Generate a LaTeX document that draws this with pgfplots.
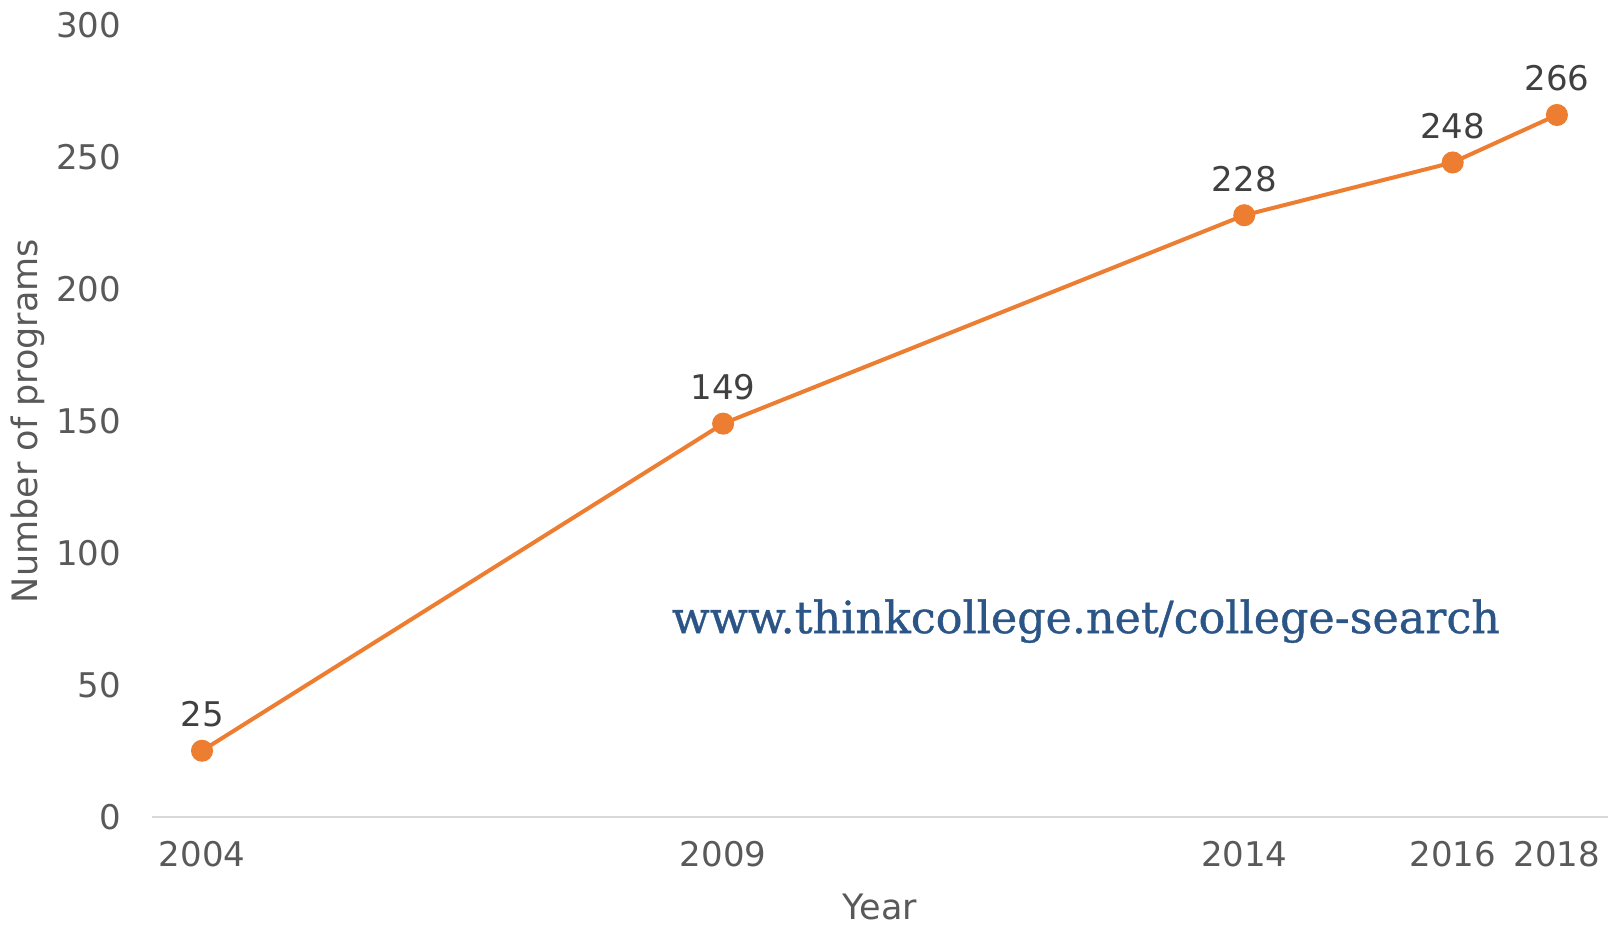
\documentclass[border=0pt]{standalone}
\usepackage{pgfplots}
\pgfplotsset{compat=1.18}
\usepackage{fontspec}
\usepackage{graphicx}
\setmainfont{DejaVu Sans}
\newfontfamily\urlfont[FakeBold=0.8]{DejaVu Serif}
\definecolor{lineorange}{HTML}{ED7D31}
\definecolor{ticktext}{HTML}{595959}
\definecolor{labeltext}{HTML}{404040}
\definecolor{urlblue}{HTML}{2A5586}
\definecolor{axisgray}{HTML}{D9D9D9}
\begin{document}
\begin{tikzpicture}
\begin{axis}[
  at={(0,0)}, anchor=south west,
  scale only axis, width=728pt, height=395.7pt,
  xmin=-0.48, xmax=13.49, ymin=0, ymax=300,
  clip=false,
  axis x line*=bottom, axis y line*=left,
  x axis line style={draw=axisgray, line width=1pt},
  y axis line style={draw=none},
  major tick length=0pt,
  tick style={draw=none},
  /pgf/number format/assume math mode=true,
  ytick={0,50,100,150,200,250,300},
  xtick={0,5,10,12,13},
  xticklabels={2004,2009,2014,2016,2018},
  tick label style={font=\fontsize{17}{20}\selectfont, text=ticktext},
  yticklabel style={anchor=east, xshift=-12pt},
  xticklabel style={anchor=north, yshift=-9pt},
  xlabel={Year}, ylabel={Number of programs},
  label style={font=\fontsize{17.5}{20}\selectfont, text=ticktext},
  xlabel style={at={(axis description cs:0.5,0)}, anchor=center, yshift=-45pt},
  ylabel style={at={(axis description cs:0,0.5)}, anchor=center, yshift=62pt},
  nodes near coords,
  nodes near coords style={font=\fontsize{17}{20}\selectfont, text=labeltext, anchor=south, yshift=7.5pt},
]
\addplot[lineorange, line width=2pt, mark=*, mark size=4.5pt,
  mark options={fill=lineorange, draw=lineorange}]
  coordinates {(0,25) (5,149) (10,228) (12,248) (13,266)};
\node[anchor=base, text=urlblue, inner sep=0pt] at (axis cs:8.48,69.6)
  {\resizebox{414pt}{!}{\urlfont www.thinkcollege.net/college-search}};
\end{axis}
\pgfresetboundingbox
\path[use as bounding box] (-76pt,-54.65pt) rectangle (728pt,408.35pt);
\end{tikzpicture}
\end{document}
